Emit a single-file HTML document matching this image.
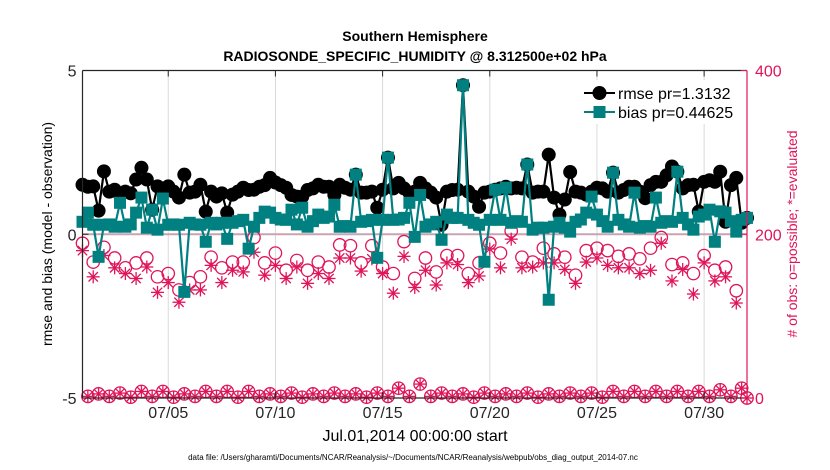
<!DOCTYPE html>
<html><head><meta charset="utf-8">
<style>
html,body{margin:0;padding:0;background:#fff;}
svg{display:block;font-family:"Liberation Sans",sans-serif;}
</style></head>
<body>
<svg id="chart" width="830" height="470" viewBox="0 0 830 470" xmlns="http://www.w3.org/2000/svg">
<rect x="0" y="0" width="830" height="470" fill="#fff"/>
<text x="415" y="41" text-anchor="middle" font-size="14" font-weight="bold">Southern Hemisphere</text>
<text x="415" y="61" text-anchor="middle" font-size="14" font-weight="bold">RADIOSONDE_SPECIFIC_HUMIDITY @ 8.312500e+02 hPa</text>
<g id="grid"></g>
<g id="counts"></g>
<g id="series"></g>
<g id="axes"></g>
<g>
  <rect x="578" y="80" width="138" height="44" fill="#fff"/>
  <line x1="584" y1="93" x2="615" y2="93" stroke="#000" stroke-width="2"/>
  <circle cx="599.5" cy="93" r="7" fill="#000"/>
  <text x="618" y="99" font-size="16">rmse pr=1.3132</text>
  <line x1="584" y1="112" x2="615" y2="112" stroke="#008080" stroke-width="2"/>
  <rect x="593.5" y="106" width="12" height="12" fill="#008080"/>
  <text x="618" y="118" font-size="16">bias pr=0.44625</text>
</g>
<text transform="translate(52,234) rotate(-90)" text-anchor="middle" font-size="14">rmse and bias (model - observation)</text>
<text fill="#e0145a" transform="translate(797,234) rotate(-90)" text-anchor="middle" font-size="14"># of obs: o=possible; *=evaluated</text>
<text x="415" y="441" text-anchor="middle" font-size="16">Jul.01,2014 00:00:00 start</text>
<text x="413" y="460" text-anchor="middle" font-size="8">data file: /Users/gharamti/Documents/NCAR/Reanalysis/~/Documents/NCAR/Reanalysis/webpub/obs_diag_output_2014-07.nc</text>
</svg>
<script>
const xTickLabels = ["07/05","07/10","07/15","07/20","07/25","07/30"];
const xTickDays = [4,9,14,19,24,29];
const yTickValues = [-5,0,5];
const yTickLabels = ["-5","0","5"];
const rTickValues = [0,200,400];
const rTickLabels = ["0","200","400"];
const rmse = [1.51,1.45,1.46,0.72,1.92,1.3,1.36,1.2,1.30,1.25,1.67,2.03,1.67,0.75,1.46,1.4,1.46,1.3,1.12,1.82,1.27,1.3,1.51,0.69,1.3,1.15,1.25,0.66,1.21,1.3,1.42,1.35,1.36,1.45,1.5,1.72,1.58,1.5,1.42,1.2,1.15,1.15,1.35,1.4,1.51,1.45,1.45,1.2,1.51,1.42,1.36,1.82,1.27,1.27,1.3,0.81,1.36,2.34,1.4,1.57,1.4,1.27,1.3,1.57,1.4,1.27,1.12,0.29,1.3,1.35,1.36,4.55,1.3,1.15,0.84,1.27,1.3,1.36,1.4,1.45,1.4,1.42,1.4,2.13,1.27,1.3,1.3,2.43,1.12,0.6,1.06,1.9,1.3,1.27,1.21,1.3,1.42,1.4,1.3,1.88,1.27,1.35,1.45,1.45,1.3,1.1,1.5,1.6,1.6,1.8,2.07,1.91,1.4,1.5,1.51,0.69,1.6,1.65,1.6,1.91,0.38,1.5,1.72,0.35,0.5];
const bias = [0.38,0.66,0.29,-0.69,0.29,0.3,0.23,0.96,0.23,0.3,0.66,1.12,0.2,0.75,0.14,1.09,0.29,0.3,0.29,-1.76,0.35,0.3,0.29,-0.23,0.35,0.3,0.35,-0.14,0.35,0.4,0.44,-0.44,0.23,0.5,0.69,0.66,0.5,0.45,0.44,0.75,0.3,0.81,0.23,0.4,0.6,0.5,0.54,0.9,0.23,0.25,0.23,1.82,0.38,0.4,0.44,-0.72,0.44,2.34,0.44,0.45,0.5,0.96,-0.08,1.2,0.23,0.3,0.38,-0.17,0.6,0.5,0.5,4.55,0.44,0.35,0.29,-0.84,0.44,1.36,0.44,1.42,0.35,0.4,0.38,2.13,0.14,0.2,0.2,-2.0,0.23,0.35,0.2,0.08,0.38,0.45,0.66,1.15,0.6,0.4,0.23,1.88,0.44,0.3,0.23,1.27,0.2,0.25,0.23,1.12,0.35,0.4,0.38,1.91,0.5,0.3,0.14,0.54,0.6,0.75,-0.23,0.7,0.66,0.4,0.08,0.44,0.5];
const nPossible = [189,2,166,5,184,2,171,6,159,1,165,8,171,2,148,8,152,1,132,5,141,2,148,8,172,2,159,8,166,1,166,8,196,2,165,5,177,2,156,6,168,1,156,5,166,2,160,6,187,2,186,5,165,1,186,6,160,2,152,12,191,2,146,17,171,2,154,6,174,2,174,5,152,1,165,6,189,2,177,5,204,2,172,6,166,1,183,5,176,2,172,6,150,2,180,6,183,1,180,8,173,2,176,8,170,2,183,8,196,2,163,8,165,2,152,8,174,2,156,10,160,2,131,12,0];
const nEvaluated = [180,2,148,5,174,2,159,6,152,1,146,8,160,2,129,8,141,1,117,5,132,2,132,8,162,2,141,8,156,1,154,8,178,2,150,5,162,2,146,6,160,1,140,5,152,2,146,6,171,2,171,5,155,1,170,6,152,2,128,12,173,2,135,17,156,2,138,6,165,2,163,5,141,1,149,6,182,2,159,5,194,2,159,6,160,1,165,5,165,2,157,6,140,2,166,6,171,1,162,8,159,2,159,8,152,2,156,8,189,2,143,8,157,2,127,8,165,2,143,10,148,2,116,12,0];

const NS = "http://www.w3.org/2000/svg";
const X0 = 82.5, X1 = 747, DAYS = 31;
const YT = 70.5, YB = 398;
const PINK = "#e0145a", TEAL = "#008080";
function xScale(day){ return X0 + (X1 - X0) * day / DAYS; }
function yScale(v){ return YB - (v + 5) / 10 * (YB - YT); }
function rScale(n){ return YB - n / 400 * (YB - YT); }
function tOf(i){ return i * 0.25; }
function mk(tag, attrs, parent){
  const e = document.createElementNS(NS, tag);
  for (const k in attrs) e.setAttribute(k, attrs[k]);
  parent.appendChild(e);
  return e;
}
const grid = document.getElementById('grid');
const axes = document.getElementById('axes');
const series = document.getElementById('series');
const counts = document.getElementById('counts');

xTickDays.forEach((d, i) => {
  const x = xScale(d);
  const g = mk('line', {x1:x, y1:YT, x2:x, y2:YB, stroke:'#d9d9d9', 'stroke-width':1}, grid);
  
  
  const tk = mk('line', {x1:x, y1:YB, x2:x, y2:YB-6, stroke:'#262626', 'stroke-width':1}, axes);
  
  
  const tk2 = mk('line', {x1:x, y1:YT, x2:x, y2:YT+6, stroke:'#262626', 'stroke-width':1}, axes);
  
  
  const lb = mk('text', {x:x, y:418, 'text-anchor':'middle', 'font-size':16, fill:'#262626'}, axes);
  
  
  lb.textContent = xTickLabels[i];
});
const zl = mk('line', {x1:X0, y1:yScale(0), x2:X1, y2:yScale(0), stroke:'#c9a3b3', 'stroke-width':2}, grid);



function star(cx, cy, r, parent){
  const g = mk('g', {stroke:PINK, 'stroke-width':1.3}, parent);
  
  
  mk('line', {x1:cx-r, y1:cy, x2:cx+r, y2:cy}, g);
  mk('line', {x1:cx, y1:cy-r, x2:cx, y2:cy+r}, g);
  const d = r*0.72;
  mk('line', {x1:cx-d, y1:cy-d, x2:cx+d, y2:cy+d}, g);
  mk('line', {x1:cx-d, y1:cy+d, x2:cx+d, y2:cy-d}, g);
}
nPossible.forEach((n, i) => {
  const c = mk('circle', {cx:xScale(tOf(i)), cy:rScale(n), r:6.2, fill:'none', stroke:PINK, 'stroke-width':1.3}, counts);
  
  
});
nEvaluated.forEach((n, i) => { star(xScale(tOf(i)), rScale(n), 6.5, counts); });

const rp = mk('polyline', {points: rmse.map((v,i)=>xScale(tOf(i))+','+yScale(v)).join(' '), fill:'none', stroke:'#000', 'stroke-width':2.2}, series);


rmse.forEach((v, i) => {
  const c = mk('circle', {cx:xScale(tOf(i)), cy:yScale(v), r:7, fill:'#000'}, series);
  
  
});
const bp = mk('polyline', {points: bias.map((v,i)=>xScale(tOf(i))+','+yScale(v)).join(' '), fill:'none', stroke:TEAL, 'stroke-width':2.2}, series);


bias.forEach((v, i) => {
  const s = mk('rect', {x:xScale(tOf(i))-6, y:yScale(v)-6, width:12, height:12, fill:TEAL}, series);
  
  
});

const la = mk('line', {x1:X0, y1:YT, x2:X0, y2:YB, stroke:'#262626', 'stroke-width':1.2}, axes);


const ba = mk('line', {x1:X0, y1:YB, x2:X1, y2:YB, stroke:'#262626', 'stroke-width':1.2}, axes);


const ta = mk('line', {x1:X0, y1:YT, x2:X1, y2:YT, stroke:'#262626', 'stroke-width':1.2}, axes);


const ra = mk('line', {x1:X1, y1:YT, x2:X1, y2:YB, stroke:PINK, 'stroke-width':1.2}, axes);



yTickValues.forEach((v, i) => {
  const y = yScale(v);
  const tk = mk('line', {x1:X0, y1:y, x2:X0+6, y2:y, stroke:'#262626'}, axes);
  
  
  const lb = mk('text', {x:X0-6, y:y+6, 'text-anchor':'end', 'font-size':16, fill:'#262626'}, axes);
  
  
  lb.textContent = yTickLabels[i];
});
rTickValues.forEach((v, i) => {
  const y = rScale(v);
  const tk = mk('line', {x1:X1, y1:y, x2:X1-6, y2:y, stroke:PINK}, axes);
  
  
  const lb = mk('text', {x:X1+8, y:y+6, 'text-anchor':'start', 'font-size':16, fill:PINK}, axes);
  
  
  lb.textContent = rTickLabels[i];
});
</script>
</body></html>
